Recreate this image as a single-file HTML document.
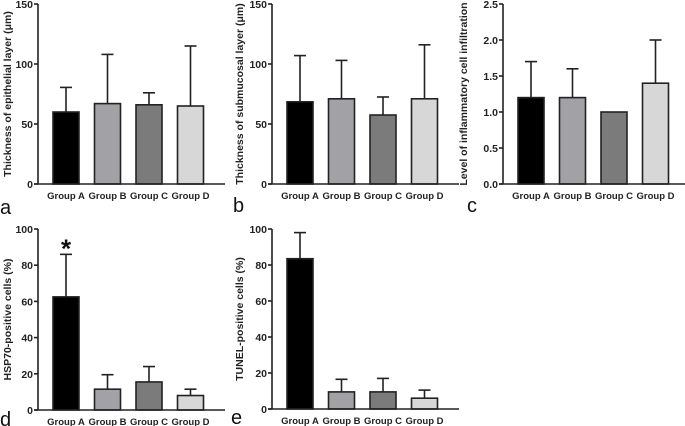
<!DOCTYPE html>
<html><head><meta charset="utf-8"><style>
html,body{margin:0;padding:0;background:#fff}
svg{display:block;font-family:"Liberation Sans",Arial,sans-serif}
</style></head><body>
<svg id="c" width="685" height="426" viewBox="0 0 685 426"></svg>
<script>
const groups = ["Group A","Group B","Group C","Group D"];
const aMeans = [60, 67, 66, 65];
const aErrs = [20.5, 41, 10, 50];
const bMeans = [68.5, 71, 57.5, 71];
const bErrs = [38.5, 32, 15, 45];
const cMeans = [1.2, 1.2, 1.0, 1.4];
const cErrs = [0.5, 0.4, 0, 0.6];
const dMeans = [62.5, 11.5, 15.5, 8];
const dErrs = [23.5, 8, 8.5, 3.5];
const eMeans = [83.5, 9.5, 9.5, 6];
const eErrs = [14.5, 7, 7.5, 4.5];
const aTicks = [0, 50, 100, 150];
const cTicks = [0, 0.5, 1.0, 1.5, 2.0, 2.5];
const pctTicks = [0, 20, 40, 60, 80, 100];

const fills = ["#000000","#a2a2a6","#7b7b7b","#d7d7d7"];
const NS = "http://www.w3.org/2000/svg";
const svg = document.getElementById('c');
function el(tag, attrs, parent){
  const e = document.createElementNS(NS, tag);
  for (const k in attrs) e.setAttribute(k, attrs[k]);
  (parent||svg).appendChild(e);
  return e;
}
function panel(p){
  const g = el('g', {});
  
  
  const max = p.ticks[p.ticks.length-1];
  const y = v => p.y0 - (v / max) * (p.y0 - p.yTop);
  const x = i => p.ax + 15 + i * 41.5;
  const bw = 26;
  p.means.forEach((m, i) => {
    const top = y(m + p.errs[i]);
    const cx = x(i) + bw/2;
    if (p.errs[i] > 0) {
      const l = el('line', {x1:cx, x2:cx, y1:y(m), y2:top, stroke:'#222', 'stroke-width':1.6}, g);
      
      
      const cap = el('line', {x1:cx-6, x2:cx+6, y1:top, y2:top, stroke:'#222', 'stroke-width':1.6}, g);
      
      
    }
    const r = el('rect', {x:x(i), y:y(m), width:bw, height:p.y0 - y(m), fill:fills[i], stroke:'#222', 'stroke-width':1.6}, g);
    
    
    const t = el('text', {x:cx, y:p.y0 + 15, 'font-size':9.5, 'font-weight':'bold', 'text-anchor':'middle', fill:'#222'}, g);
    t.textContent = groups[i];
    
    
  });
  const ya = el('line', {x1:p.ax, x2:p.ax, y1:p.yTop, y2:p.y0, stroke:'#222', 'stroke-width':1.6}, g);
  
  
  const xa = el('line', {x1:p.ax - 4, x2:p.ax + 187, y1:p.y0, y2:p.y0, stroke:'#222', 'stroke-width':1.6}, g);
  
  
  p.ticks.forEach(v => {
    el('line', {x1:p.ax - 4, x2:p.ax, y1:y(v), y2:y(v), stroke:'#222', 'stroke-width':1.6}, g);
    const t = el('text', {x:p.ax - 5, y:y(v) + 4, 'font-size':10.5, 'font-weight':'bold', 'text-anchor':'end', fill:'#222'}, g);
    t.textContent = p.fmt ? v.toFixed(1) : v;
    
    
  });
  const cy = (p.y0 + p.yTop) / 2;
  const yt = el('text', {x:p.tx, y:cy, 'font-size':10.5, 'font-weight':'bold', 'text-anchor':'middle', fill:'#222', transform:'rotate(-90 ' + p.tx + ' ' + cy + ')'}, g);
  yt.textContent = p.title;
  
  
  const lt = el('text', {x:p.lx, y:p.ly, 'font-size':20, fill:'#111'}, g);
  lt.textContent = p.letter;
  
  
  if (p.star) {
    const s = el('text', {x:x(0) + bw/2, y:y(p.means[0] + p.errs[0]) + 3, 'font-size':26, 'font-weight':'bold', 'text-anchor':'middle', fill:'#111'}, g);
    s.textContent = '*';
    
    
  }
}
panel({letter:'a', means:aMeans, errs:aErrs, ticks:aTicks, ax:38, yTop:4, y0:184, tx:11, lx:0, ly:214, title:'Thickness of epithelial layer (μm)'});
panel({letter:'b', means:bMeans, errs:bErrs, ticks:aTicks, ax:272, yTop:4, y0:184, tx:243, lx:233, ly:212, title:'Thickness of submucosal layer (μm)'});
panel({letter:'c', means:cMeans, errs:cErrs, ticks:cTicks, ax:503, yTop:4, y0:184, tx:467, lx:467, ly:212, fmt:true, title:'Level of inflammatory cell infiltration'});
panel({letter:'d', means:dMeans, errs:dErrs, ticks:pctTicks, ax:38, yTop:229, y0:410, tx:11, lx:0, ly:426, star:true, title:'HSP70-positive cells (%)'});
panel({letter:'e', means:eMeans, errs:eErrs, ticks:pctTicks, ax:272, yTop:229, y0:409, tx:243, lx:231, ly:424, title:'TUNEL-positive cells (%)'});
</script>
</body></html>
